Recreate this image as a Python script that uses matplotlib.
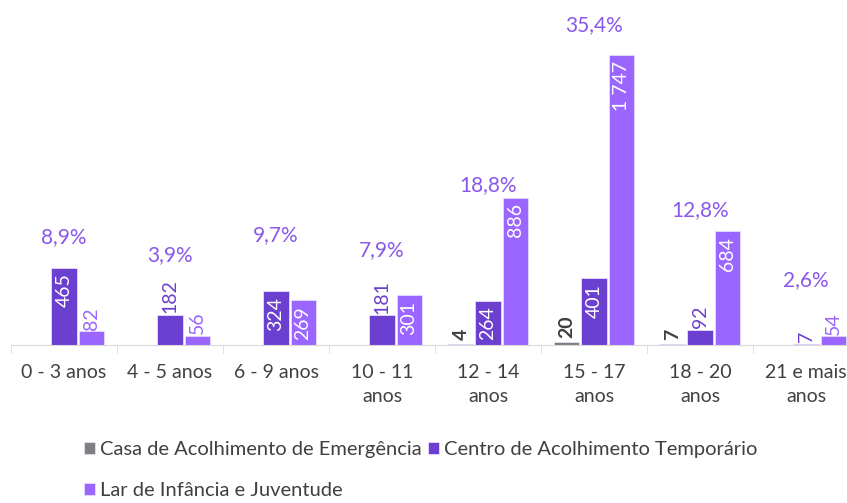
import numpy as np
import matplotlib.pyplot as plt

categories = ["0 - 3 anos", "4 - 5 anos", "6 - 9 anos", "10 - 11\nanos", "12 - 14\nanos",
              "15 - 17\nanos", "18 - 20\nanos", "21 e mais\nanos"]
casa = [0, 0, 1, 1, 4, 20, 7, 0]
centro = [465, 182, 324, 181, 264, 401, 92, 7]
lar = [82, 56, 269, 301, 886, 1747, 684, 54]
percent = ["8,9%", "3,9%", "9,7%", "7,9%", "18,8%", "35,4%", "12,8%", "2,6%"]
series_names = ["Casa de Acolhimento de Emergência", "Centro de Acolhimento Temporário",
                "Lar de Infância e Juventude"]

# layout: height (data units) where each percentage sits
pct_pos = [650, 542, 663, 572, 964, 1928, 813, 392]

colors = ["#7f7f7f", "#6b3fcf", "#9b66ff"]
pct_color = "#8a58ea"
text_color = "#404040"

plt.rcParams['font.family'] = ['Lato', 'DejaVu Sans']

fig = plt.figure(figsize=(8.47, 5.03), dpi=100)
ax = fig.add_axes([11 / 847, (503 - 345) / 503, 848 / 847, 345 / 503])

x = np.arange(len(categories))
w = 0.236
step = 0.255
bars = []
for i, (vals, c) in enumerate(zip([casa, centro, lar], colors)):
    b = ax.bar(x + (i - 1) * step, vals, w, color=c, label=series_names[i],
               edgecolor="#e6dcff", linewidth=0.6)
    bars.append(b)

ax.set_xlim(-0.5, len(categories) - 0.5)
ax.set_ylim(0, 2078)

# value labels
for i, (b, vals) in enumerate(zip(bars, [casa, centro, lar])):
    for rect, v in zip(b, vals):
        if v < 3:
            continue
        cx = rect.get_x() + rect.get_width() / 2
        txt = f"{v:,}".replace(",", " ")
        if v > 250:
            ax.annotate(txt, (cx, v), xytext=(0, -4), textcoords="offset points",
                        rotation=90, ha="center", va="top", color="white", fontsize=14)
        elif i == 0:
            ax.annotate(txt, (cx, v), xytext=(0, 3), textcoords="offset points",
                        rotation=90, ha="center", va="bottom", color="#404040",
                        fontsize=14, fontweight="bold")
        else:
            ax.annotate(txt, (cx, v), xytext=(0, 1), textcoords="offset points",
                        rotation=90, ha="center", va="bottom", color=colors[i], fontsize=14)

for xi, p, y in zip(x, percent, pct_pos):
    ax.text(xi, y, p, ha="center", va="center", color=pct_color, fontsize=15)

for s in ["top", "right", "left"]:
    ax.spines[s].set_visible(False)
ax.spines["bottom"].set_color("#d9d9d9")
ax.set_yticks([])
ax.set_xticks(x)
ax.set_xticklabels(categories, fontsize=14, color=text_color, linespacing=1.45)
ax.tick_params(axis="x", length=0, pad=14)
ax.set_xticks(np.arange(len(categories) + 1) - 0.5, minor=True)
ax.tick_params(axis="x", which="minor", length=6, color="#d9d9d9")

h, l = ax.get_legend_handles_labels()
order = [0, 2, 1]
fig.legend([h[k] for k in order], [l[k] for k in order], ncol=2, loc="upper left",
           bbox_to_anchor=(84 / 847, 1 - 441 / 503), frameon=False, fontsize=14.5,
           handlelength=0.55, handleheight=0.55, handletextpad=0.25, columnspacing=0.3,
           labelspacing=1.2, labelcolor=text_color, borderaxespad=0, borderpad=0)

fig.savefig("out.png", dpi=100)
